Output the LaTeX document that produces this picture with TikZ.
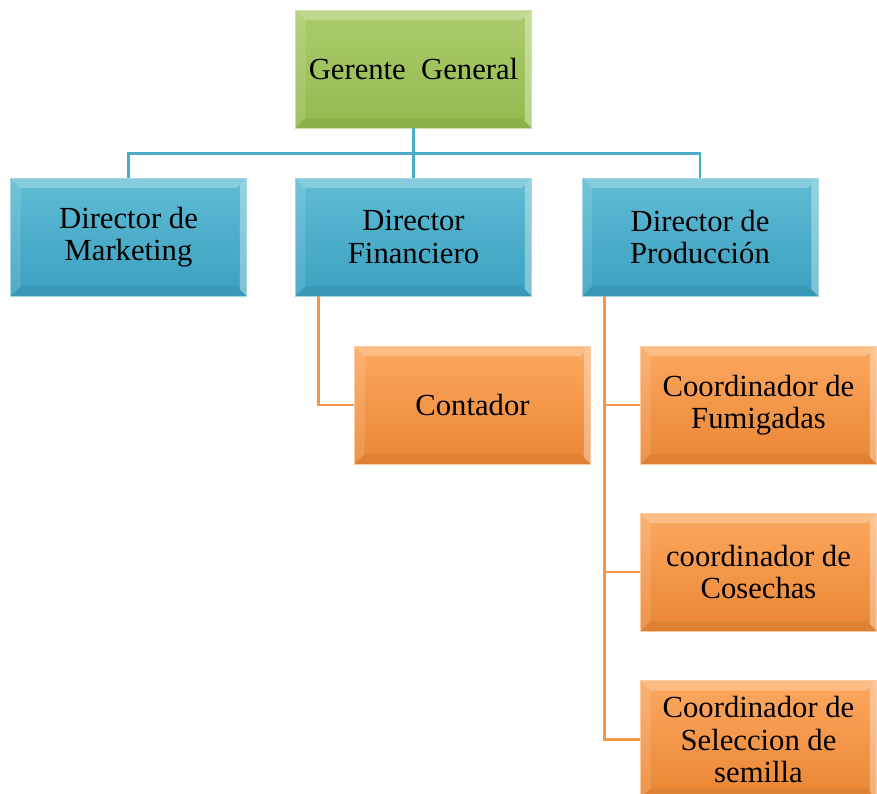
\documentclass[tikz,border=0pt]{standalone}
\usepackage{fontspec}
\setmainfont{Liberation Serif}
\usetikzlibrary{calc}
\definecolor{gT}{RGB}{172,204,108}
\definecolor{gB}{RGB}{148,185,78}
\definecolor{bT}{RGB}{96,188,212}
\definecolor{bB}{RGB}{58,160,192}
\definecolor{oT}{RGB}{252,168,96}
\definecolor{oB}{RGB}{234,134,52}
\definecolor{bLine}{RGB}{75,172,198}
\definecolor{oLine}{RGB}{247,150,70}
\tikzset{
  box/.style={rectangle, minimum width=177pt, minimum height=88.5pt, inner sep=0pt,
    align=center, font=\fontsize{23pt}{24.5pt}\selectfont,
    path picture={
      \fill[white,opacity=.25] (path picture bounding box.north west) -- (path picture bounding box.north east)
        -- ([xshift=-7.5pt,yshift=-7.5pt]path picture bounding box.north east)
        -- ([xshift=7.5pt,yshift=-7.5pt]path picture bounding box.north west) -- cycle;
      \fill[white,opacity=.12] (path picture bounding box.north west) -- (path picture bounding box.south west)
        -- ([xshift=7.5pt,yshift=7.5pt]path picture bounding box.south west)
        -- ([xshift=7.5pt,yshift=-7.5pt]path picture bounding box.north west) -- cycle;
      \fill[white,opacity=.35] (path picture bounding box.north east) -- (path picture bounding box.south east)
        -- ([xshift=-5pt,yshift=5pt]path picture bounding box.south east)
        -- ([xshift=-5pt,yshift=-5pt]path picture bounding box.north east) -- cycle;
      \fill[black,opacity=.05] (path picture bounding box.south west) -- (path picture bounding box.south east)
        -- ([xshift=-7.5pt,yshift=7.5pt]path picture bounding box.south east)
        -- ([xshift=7.5pt,yshift=7.5pt]path picture bounding box.south west) -- cycle;
    }},
  gbox/.style={box, top color=gT, bottom color=gB, draw=gT!60!white, line width=0.6pt},
  bbox/.style={box, top color=bT, bottom color=bB, draw=bT!60!white, line width=0.6pt},
  obox/.style={box, top color=oT, bottom color=oB, draw=oT!60!white, line width=0.6pt},
  bconn/.style={draw=bLine, line width=2.2pt},
  oconn/.style={draw=oLine, line width=2.2pt}
}
\begin{document}
\begin{tikzpicture}[x=0.75pt, y=-0.75pt]
\clip (0,0) rectangle (877,793);
\fill[white] (0,0) rectangle (877,793);
\node[gbox] (gg) at (413.5,69) {Gerente\ \ General};
\node[bbox] (dm) at (128.5,237) {Director de\\Marketing};
\node[bbox] (df) at (413.5,237) {Director\\Financiero};
\node[bbox] (dp) at (700,237) {Director de\\Producción};
\node[obox] (ct) at (472.5,405) {Contador};
\node[obox] (cf) at (758.5,405) {Coordinador de\\Fumigadas};
\node[obox] (cc) at (758.5,572) {coordinador de\\Cosechas};
\node[obox] (cs) at (758.5,739.5) {Coordinador de\\Seleccion de\\semilla};
\draw[bconn] (gg.south) -- ++(0,25) -| (dm.north);
\draw[bconn] (gg.south) -- ++(0,25) -| (dp.north);
\draw[bconn] (gg.south) -- (df.north);
\draw[oconn] ($(df.south west)+(23,0)$) |- (ct.west);
\draw[oconn] ($(dp.south west)+(23,0)$) |- (cs.west);
\draw[oconn] ($(dp.south west)+(23,0)$) |- (cf.west);
\draw[oconn] ($(dp.south west)+(23,0)$) |- (cc.west);
\end{tikzpicture}
\end{document}
